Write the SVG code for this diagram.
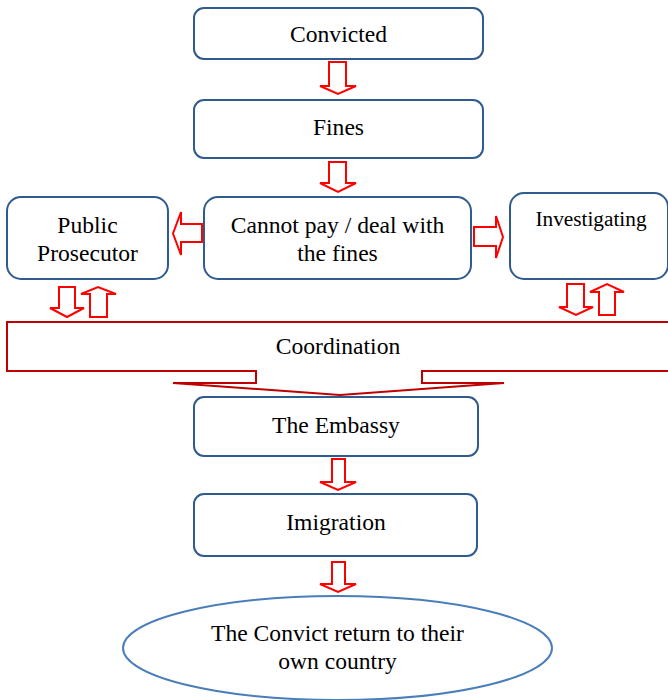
<svg xmlns="http://www.w3.org/2000/svg" width="668" height="700" viewBox="0 0 668 700">
<style>
.box{fill:#fff;stroke:#2F5B8E;stroke-width:2}
.ell{fill:#fff;stroke:#4A7EBB;stroke-width:2}
.arr{fill:#fff;stroke:#FF0000;stroke-width:2;stroke-linejoin:miter}
.coord{fill:#fff;stroke:#C00000;stroke-width:2}
text{font-family:"Liberation Serif","Times New Roman",serif;font-size:23.6px;fill:#000;text-anchor:middle}
.sm{font-size:21.3px}
</style>
<rect width="668" height="700" fill="#fff"/>
<g id="coordination">
<path class="coord" d="M7,322 H672 V371 H422 V383 H504 L340,395 L173,383 H256 V371 H7 Z"/>
<text x="338" y="354">Coordination</text>
</g>
<g id="convicted">
<rect class="box" x="194" y="8" width="289" height="51" rx="10"/>
<text x="338.5" y="42">Convicted</text>
</g>
<g id="fines">
<rect class="box" x="194" y="100" width="289" height="58" rx="10"/>
<text x="338.5" y="135">Fines</text>
</g>
<g id="cannot-pay">
<rect class="box" x="204" y="197" width="267" height="82" rx="14"/>
<text x="337.5" y="233">Cannot pay / deal with</text>
<text x="337.5" y="261">the fines</text>
</g>
<g id="public-prosecutor">
<rect class="box" x="7" y="197" width="161" height="82" rx="14"/>
<text x="87.5" y="233">Public</text>
<text x="87.5" y="261">Prosecutor</text>
</g>
<g id="investigating">
<rect class="box" x="510" y="193" width="158" height="86" rx="14"/>
<text class="sm" x="591" y="226">Investigating</text>
</g>
<g id="embassy">
<rect class="box" x="194" y="397" width="284" height="59" rx="10"/>
<text x="336" y="433">The Embassy</text>
</g>
<g id="imigration">
<rect class="box" x="194" y="494" width="283" height="62" rx="10"/>
<text x="336" y="530">Imigration</text>
</g>
<g id="return">
<ellipse class="ell" cx="337.5" cy="648" rx="214.5" ry="52"/>
<text x="337.5" y="641">The Convict return to their</text>
<text x="337.5" y="669">own country</text>
</g>
<g id="connectors">
<polygon class="arr" points="329,62 346,62 346,86 356,86 338,94 320,86 329,86"/>
<polygon class="arr" points="329,162 346,162 346,183 356,183 338,192 320,183 329,183"/>
<polygon class="arr" points="202,224 202,242 181,242 181,255 173,233.5 181,212 181,224"/>
<polygon class="arr" points="474,227 474,246 496,246 496,258 503,237 496,216 496,227"/>
<polygon class="arr" points="59,287 75,287 75,308 84,308 67,317 50,308 59,308"/>
<polygon class="arr" points="90,317 107,317 107,294 116,294 98,287 81,294 90,294"/>
<polygon class="arr" points="567,284 584,284 584,307 593,307 576,315 559,307 567,307"/>
<polygon class="arr" points="599,315 615,315 615,292 624,292 607,284 590,292 599,292"/>
<polygon class="arr" points="332,459 345,459 345,482 356,482 338,490 320,482 332,482"/>
<polygon class="arr" points="332,562 345,562 345,584 356,584 338,592 320,584 332,584"/>
</g>
</svg>
